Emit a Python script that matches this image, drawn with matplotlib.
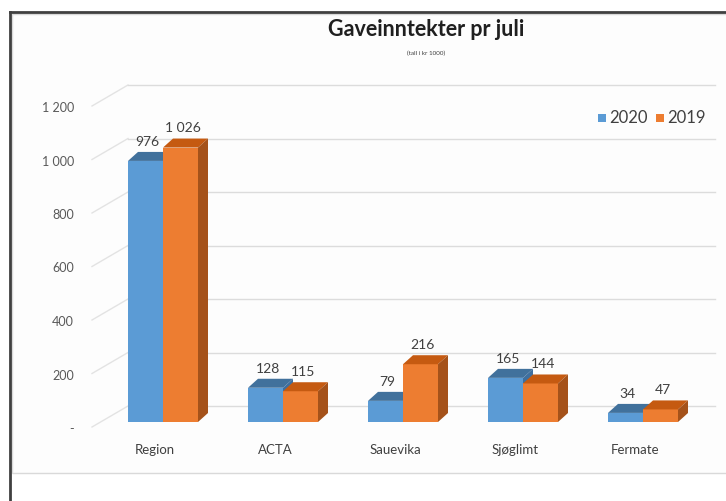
import matplotlib.pyplot as plt
from matplotlib.patches import Polygon, Rectangle
from matplotlib.lines import Line2D

plt.rcParams['font.family'] = ['Lato', 'DejaVu Sans']

# data (tall i kr 1000)
categories = ["Region", "ACTA", "Sauevika", "Sjøglimt", "Fermate"]
v2020 = [976, 128, 79, 165, 34]
v2019 = [1026, 115, 216, 144, 47]
yticks = [0, 200, 400, 600, 800, 1000, 1200]


def fmt(v):
    if v == 0:
        return "-"
    return f"{v:,}".replace(",", " ")


W, H = 726, 501
fig = plt.figure(figsize=(W / 100, H / 100), dpi=100)

# pixel geometry of the plot
x_left, x_right = 103, 703
y_zero, y_top = 422, 101
ax = fig.add_axes([x_left / W, 1 - y_zero / H, (x_right - x_left) / W, (y_zero - y_top) / H])
ax.set_xlim(-0.5, 4.5)
ax.set_ylim(0, 1200)
ax.axis('off')

px_x = 1 / 120.0                 # data units per pixel (x)
px_y = 1200 / (y_zero - y_top)   # data units per pixel (y)

# outer frame and chart area (runs off the right edge)
fig.add_artist(Rectangle((12 / W, 1 - 473 / H), (W + 20) / W, (473 - 14) / H,
                         transform=fig.transFigure, facecolor='#fdfdfd',
                         edgecolor='#d9d9d9', lw=1, zorder=-10))
fig.add_artist(Line2D([10 / W, 10 / W], [0, 1 - 12 / H], transform=fig.transFigure,
                      color='#404040', lw=2))
fig.add_artist(Line2D([10 / W, 1], [1 - 12 / H, 1 - 12 / H], transform=fig.transFigure,
                      color='#404040', lw=2))

# gridlines on back wall + floor diagonals
wall_dx, wall_dy = 36 * px_x, 21 * px_y
x_lab = -0.5 - 11 * px_x
for t in yticks:
    y0 = t - 5 * px_y
    ax.plot([x_lab, x_lab + wall_dx], [y0, y0 + wall_dy], color='#e3e3e3', lw=1,
            clip_on=False, zorder=0)
    ax.plot([x_lab + wall_dx, 4.5 + 12 * px_x], [y0 + wall_dy] * 2, color='#dcdcdc',
            lw=1, clip_on=False, zorder=0)
    ax.text(-0.5 - 29 * px_x, t - 7 * px_y, fmt(t), ha='right', va='center',
            fontsize=9, color='#595959')

# pseudo 3D bars
w = 35 * px_x
dx, dy = 10 * px_x, 9 * px_y
series = [(v2020, -w / 2, '#5b9bd5', '#41719c', '#3e6f9f'),
          (v2019, w / 2, '#ed7d31', '#c55a11', '#a5521a')]
for i in range(len(categories)):
    for vals, off, front, top, side in series:
        h = vals[i]
        x0 = i + off - w / 2
        x1 = x0 + w
        z = 2 + i * 3 + (1 if off > 0 else 0)
        ax.add_patch(Rectangle((x0, 0), w, h, facecolor=front, edgecolor='none', zorder=z))
        ax.add_patch(Polygon([(x0, h), (x1, h), (x1 + dx, h + dy), (x0 + dx, h + dy)],
                             closed=True, facecolor=top, edgecolor='none', zorder=z))
        ax.add_patch(Polygon([(x1, 0), (x1 + dx, dy), (x1 + dx, h + dy), (x1, h)],
                             closed=True, facecolor=side, edgecolor='none', zorder=z))
        ax.annotate(fmt(h), (i + off + dx / 2, h + dy), xytext=(-2, 3),
                    textcoords='offset points', ha='center', va='bottom',
                    fontsize=10, color='#404040', zorder=20, annotation_clip=False)
    ax.text(i - 8 * px_x, -28 * px_y, categories[i], ha='center', va='center',
            fontsize=9.5, color='#404040')

# title
fig.text(426 / W, 1 - 30 / H, "Gaveinntekter pr juli", ha='center', va='center',
         fontsize=15.5, fontweight='bold', color='#1f1f1f')
fig.text(426 / W, 1 - 53 / H, "(tall i kr 1000)", ha='center', va='center',
         fontsize=4.5, color='#404040')

# legend
for x_sq, label, col in [(598, "2020", '#5b9bd5'), (656, "2019", '#ed7d31')]:
    fig.add_artist(Rectangle((x_sq / W, 1 - 122 / H), 8 / W, 8 / H,
                             transform=fig.transFigure, facecolor=col, edgecolor='none'))
    fig.text((x_sq + 11) / W, 1 - 118 / H, label, ha='left', va='center',
             fontsize=12, color='#404040')

fig.savefig('out.png', dpi=100)
